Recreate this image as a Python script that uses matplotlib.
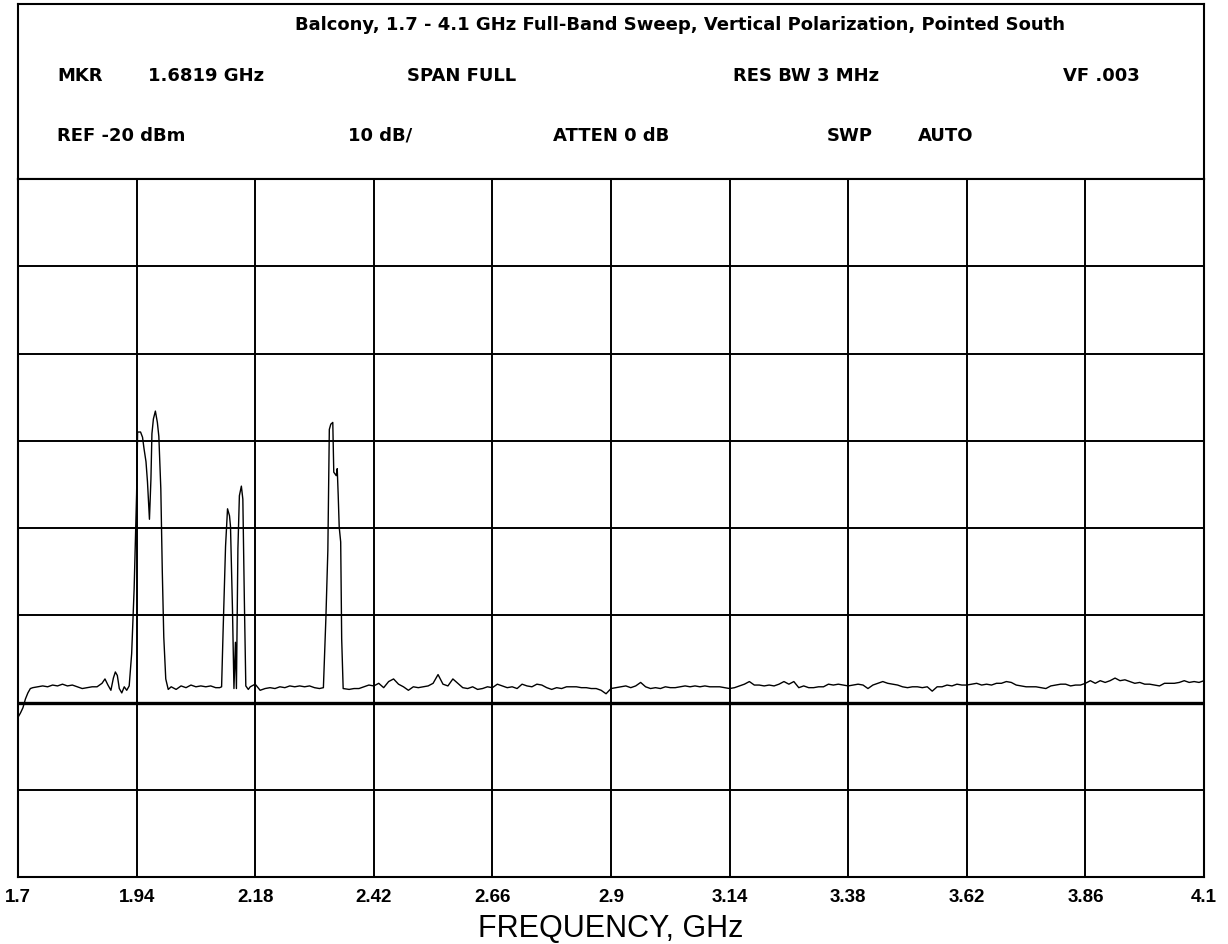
import numpy as np
import matplotlib
matplotlib.use("Agg")
import matplotlib.pyplot as plt

# ---------------- data ----------------
title_text = "Balcony, 1.7 - 4.1 GHz Full-Band Sweep, Vertical Polarization, Pointed South"
header_row1 = ["MKR", "1.6819 GHz", "SPAN FULL", "RES BW 3 MHz", "VF .003"]
header_row2 = ["REF -20 dBm", "10 dB/", "ATTEN 0 dB", "SWP", "AUTO"]

x_ticks = [1.7, 1.94, 2.18, 2.42, 2.66, 2.9, 3.14, 3.38, 3.62, 3.86, 4.1]
x_tick_labels = ["1.7", "1.94", "2.18", "2.42", "2.66", "2.9", "3.14", "3.38", "3.62", "3.86", "4.1"]
ref_level = -20
db_per_div = 10
display_line = -80

# low-band noise before first cluster
seg_a_f = [1.700, 1.705, 1.710, 1.715, 1.720, 1.725, 1.730, 1.740, 1.750, 1.760,
           1.770, 1.780, 1.790, 1.800, 1.810, 1.820, 1.830, 1.840, 1.850, 1.860,
           1.870, 1.876, 1.882, 1.888, 1.893, 1.897, 1.901, 1.905, 1.910, 1.915,
           1.920, 1.925]
seg_a_db = [-81.7, -81.2, -80.6, -79.6, -78.9, -78.4, -78.3, -78.2, -78.1, -78.2,
            -78.0, -78.1, -77.9, -78.1, -78.0, -78.2, -78.4, -78.3, -78.2, -78.2,
            -77.8, -77.3, -78.0, -78.6, -77.2, -76.5, -76.9, -78.4, -78.9, -78.2,
            -78.6, -78.1]

# cluster 1 (~1.93-2.00 GHz)
peak1_f = [1.930, 1.935, 1.940, 1.942, 1.948, 1.952, 1.955, 1.959, 1.962, 1.966,
           1.969, 1.971, 1.974, 1.978, 1.982, 1.985, 1.989, 1.992, 1.995, 1.999, 2.004]
peak1_db = [-74.4, -67.0, -56.1, -49.0, -49.0, -49.6, -50.9, -52.4, -54.7, -59.0,
            -54.4, -49.2, -47.5, -46.6, -47.9, -49.5, -55.5, -65.0, -72.5, -77.3, -78.5]

seg_b_f = [2.010, 2.020, 2.030, 2.040, 2.050, 2.060, 2.070, 2.080, 2.090, 2.100, 2.108, 2.112]
seg_b_db = [-78.2, -78.5, -78.1, -78.3, -78.0, -78.2, -78.1, -78.2, -78.1, -78.3, -78.3, -78.2]

# cluster 2 (~2.11-2.17 GHz)
peak2_f = [2.115, 2.120, 2.124, 2.128, 2.130, 2.134, 2.137, 2.140, 2.142, 2.145,
           2.148, 2.152, 2.155, 2.158, 2.161, 2.166]
peak2_db = [-71.9, -62.1, -57.8, -58.6, -59.8, -69.3, -78.4, -73.1, -78.4, -62.4,
            -56.3, -55.2, -56.7, -68.1, -78.1, -78.5]

seg_c_f = [2.170, 2.180, 2.190, 2.200, 2.210, 2.220, 2.230, 2.240, 2.250, 2.260,
           2.270, 2.280, 2.290, 2.300, 2.310, 2.318]
seg_c_db = [-78.2, -77.9, -78.6, -78.4, -78.3, -78.4, -78.2, -78.3, -78.1, -78.2,
            -78.1, -78.2, -78.1, -78.3, -78.4, -78.3]

# cluster 3 (~2.32-2.36 GHz)
peak3_f = [2.323, 2.327, 2.330, 2.333, 2.337, 2.339, 2.344, 2.346, 2.348, 2.350,
           2.353, 2.355, 2.358]
peak3_db = [-70.4, -62.6, -48.7, -48.1, -47.9, -53.6, -54.0, -53.2, -56.3, -59.9,
            -61.6, -72.7, -78.4]

# upper-band noise floor, 2.37 - 4.10 GHz in 10 MHz steps
seg_d_start, seg_d_step = 2.37, 0.01
seg_d_db = [
    -78.5, -78.4, -78.4, -78.2, -78.0, -78.1, -77.8, -78.3, -77.6, -77.3,
    -77.9, -78.2, -78.6, -78.2, -78.3, -78.2, -78.1, -77.8, -76.8, -77.9,
    -78.1, -77.3, -77.8, -78.3, -78.4, -78.2, -78.5, -78.4, -78.2, -78.3,
    -77.9, -78.1, -78.3, -78.2, -78.4, -77.9, -78.1, -78.2, -77.9, -78.0,
    -78.3, -78.5, -78.3, -78.4, -78.2, -78.2, -78.2, -78.3, -78.3, -78.4,
    -78.4, -78.6, -79.0, -78.4, -78.3, -78.2, -78.1, -78.3, -78.1, -77.7,
    -78.2, -78.4, -78.3, -78.4, -78.2, -78.3, -78.3, -78.2, -78.1, -78.2,
    -78.1, -78.2, -78.1, -78.2, -78.2, -78.2, -78.3, -78.4, -78.3, -78.1,
    -77.9, -77.6, -78.0, -78.0, -78.1, -78.0, -78.1, -77.9, -77.6, -77.9,
    -77.6, -78.3, -78.1, -78.3, -78.3, -78.2, -78.2, -77.9, -78.0, -77.9,
    -78.0, -78.1, -78.0, -77.9, -78.0, -78.4, -78.0, -77.8, -77.6, -77.8,
    -77.9, -78.0, -78.2, -78.3, -78.2, -78.2, -78.3, -78.2, -78.7, -78.2,
    -78.2, -78.0, -78.1, -77.9, -78.0, -78.0, -77.9, -77.8, -78.0, -77.9,
    -78.0, -77.8, -77.8, -77.6, -77.7, -78.0, -78.1, -78.2, -78.2, -78.2,
    -78.3, -78.4, -78.1, -78.0, -77.9, -77.9, -78.1, -78.0, -78.0, -77.8,
    -77.5, -77.8, -77.5, -77.7, -77.5, -77.2, -77.5, -77.4, -77.6, -77.8,
    -77.7, -77.9, -77.9, -78.0, -78.1, -77.8, -77.8, -77.8, -77.7, -77.5,
    -77.7, -77.6, -77.7, -77.5,
]
seg_d_f = list(np.round(seg_d_start + seg_d_step * np.arange(len(seg_d_db)), 3))

freq = np.array(seg_a_f + peak1_f + seg_b_f + peak2_f + seg_c_f + peak3_f + seg_d_f)
level = np.array(seg_a_db + peak1_db + seg_b_db + peak2_db + seg_c_db + peak3_db + seg_d_db)

# ---------------- figure ----------------
W, H = 1228, 945
fig = plt.figure(figsize=(W / 100, H / 100), dpi=100)
fig.patch.set_facecolor("white")

def fx(x):
    return x / W

def fy(y):
    return 1 - y / H

left, right, top_hdr, top_plot, bottom = 18, 1204, 5, 180, 878

# header box
hax = fig.add_axes([fx(left), fy(top_plot), (right - left) / W, (top_plot - top_hdr) / H])
hax.set_xticks([]); hax.set_yticks([])
for s in hax.spines.values():
    s.set_linewidth(1.5); s.set_color("black")

# main plot
ax = fig.add_axes([fx(left), fy(bottom), (right - left) / W, (bottom - top_plot) / H])
ax.set_xlim(x_ticks[0], x_ticks[-1])
ax.set_ylim(ref_level - 8 * db_per_div, ref_level)
ax.set_xticks(x_ticks)
ax.set_xticklabels(x_tick_labels, fontfamily=["Liberation Sans", "DejaVu Sans"],
                   fontweight="bold", fontsize=13.5)
ax.set_yticks(np.arange(ref_level - 8 * db_per_div, ref_level + 1, db_per_div))
ax.set_yticklabels([])
ax.tick_params(axis="both", length=0, pad=8)
ax.grid(True, color="black", linewidth=1.4)
for s in ax.spines.values():
    s.set_linewidth(1.5); s.set_color("black")
ax.axhline(display_line, color="black", linewidth=2.4, zorder=2)
ax.plot(freq, level, color="black", linewidth=1.0, zorder=3)
ax.set_xlabel("FREQUENCY, GHz", fontfamily=["Liberation Sans", "DejaVu Sans"],
              fontsize=22, labelpad=6)

# header texts
fig.text(fx(680), fy(25), title_text, ha="center", va="center",
         fontfamily=["DejaVu Sans"], fontweight="bold", fontsize=13.0)

hdr_font = dict(fontfamily=["DejaVu Sans"], fontweight="bold", fontsize=13,
                ha="left", va="center")
row1_x = [57, 148, 407, 733, 1063]
row2_x = [57, 348, 553, 827, 918]
for t, x in zip(header_row1, row1_x):
    fig.text(fx(x), fy(76), t, **hdr_font)
for t, x in zip(header_row2, row2_x):
    fig.text(fx(x), fy(136), t, **hdr_font)

fig.savefig("out.png", dpi=100, facecolor="white")
